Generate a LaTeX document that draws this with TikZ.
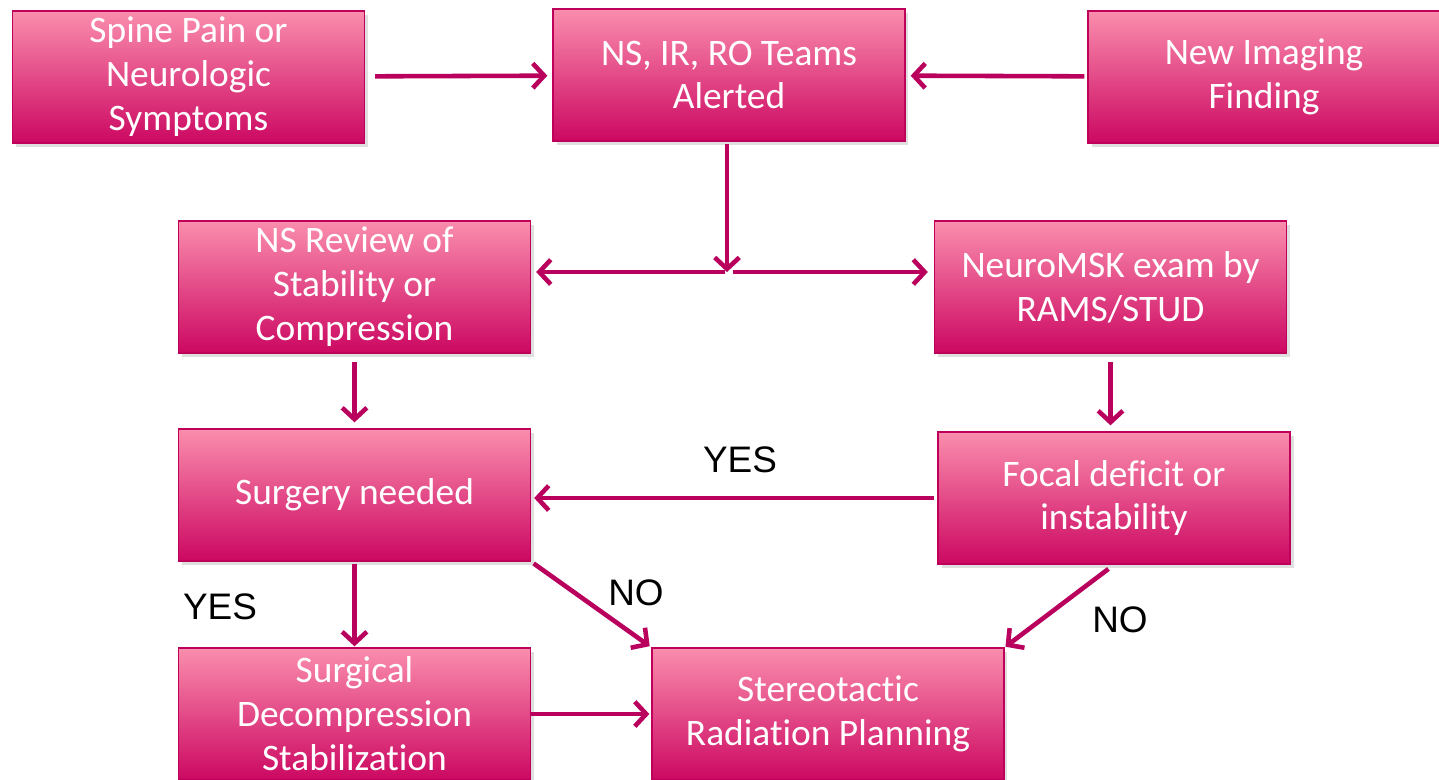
\documentclass[tikz,border=0pt]{standalone}
\usepackage{fontspec}
\setmainfont[Ligatures=CommonOff]{Carlito}
\newfontfamily\labfont{Liberation Sans}
\usepackage{xcolor}
\usetikzlibrary{calc,arrows.meta,shadows}

\definecolor{boxtop}{RGB}{250,141,173}
\definecolor{boxbot}{RGB}{204,8,98}
\definecolor{boxline}{RGB}{190,0,90}
\definecolor{arrcol}{RGB}{184,0,92}

\tikzset{
  stepbox/.style={draw=boxline, line width=0.8pt, rectangle, top color=boxtop, bottom color=boxbot,
    minimum width=7.04cm, minimum height=2.64cm, align=center, text=white,
    font=\fontsize{21.3}{25}\selectfont,
    drop shadow={opacity=0.25, shadow xshift=2pt, shadow yshift=-2.5pt}},
  arr/.style={draw=arrcol, line width=2.6pt, -{Straight Barb[length=6.5pt, width=14pt, line width=2.6pt]}},
  lab/.style={font=\labfont\fontsize{21}{25}\selectfont, text=black}
}

\begin{document}
\begin{tikzpicture}[x=0.02cm, y=-0.02cm]
    \useasboundingbox (0,0) rectangle (1439,779);
    \node[stepbox] (spine) at (188.5, 77) {Spine Pain or\\Neurologic\\Symptoms};
    \node[stepbox] (teams) at (729, 75) {NS, IR, RO Teams\\Alerted};
    \node[stepbox] (imaging) at (1264, 77) {New Imaging\\Finding};
    \node[stepbox] (review) at (354.5, 287) {NS Review of\\Stability or\\Compression};
    \node[stepbox] (exam) at (1110.5, 287) {NeuroMSK exam by\\RAMS/STUD};
    \node[stepbox] (surgery) at (354.5, 495) {Surgery needed};
    \node[stepbox] (deficit) at (1114, 498) {Focal deficit or\\instability};
    \node[stepbox] (decomp) at (354.5, 714) {Surgical\\Decompression\\Stabilization};
    \node[stepbox] (srs) at (828, 714) {Stereotactic\\Radiation Planning};
    \coordinate (split) at (727, 272);
    \coordinate (splitL) at (725, 272);
    \coordinate (splitR) at (733, 272);
    \node[lab] (yes1) at (740, 460) {YES};
    \node[lab] (yes2) at (220, 607) {YES};
    \node[lab] (no1) at (636, 593) {NO};
    \node[lab] (no2) at (1120, 620) {NO};
    \draw[arr, shorten <=10*0.02cm, shorten >=5*0.02cm] (spine) -- (teams);
    \draw[arr, shorten <=3*0.02cm, shorten >=5*0.02cm] (imaging) -- (teams);
    \draw[arr, shorten <=2*0.02cm] (teams.south -| split) -- (split);
    \draw[arr, shorten >=5*0.02cm] (splitL) -- (splitL -| review.east);
    \draw[arr, shorten >=6*0.02cm] (splitR) -- (splitR -| exam.west);
    \draw[arr, shorten <=8*0.02cm, shorten >=6*0.02cm] (review) -- (surgery);
    \draw[arr, shorten <=8*0.02cm, shorten >=6*0.02cm] (exam.south) -- (exam.south |- deficit.north);
    \draw[arr, shorten <=3*0.02cm, shorten >=3*0.02cm] (deficit.west) -- (deficit.west -| surgery.east);
    \draw[arr, shorten <=2*0.02cm, shorten >=1*0.02cm] (surgery) -- (decomp);
    \draw[arr, shorten <=3*0.02cm, shorten >=2*0.02cm] (surgery.south east) -- (srs.north west);
    \draw[arr, shorten <=7*0.02cm, shorten >=1*0.02cm] (deficit.south) -- (srs.north east);
    \draw[arr, shorten >=2*0.02cm] (decomp) -- (srs);
\end{tikzpicture}
\end{document}
